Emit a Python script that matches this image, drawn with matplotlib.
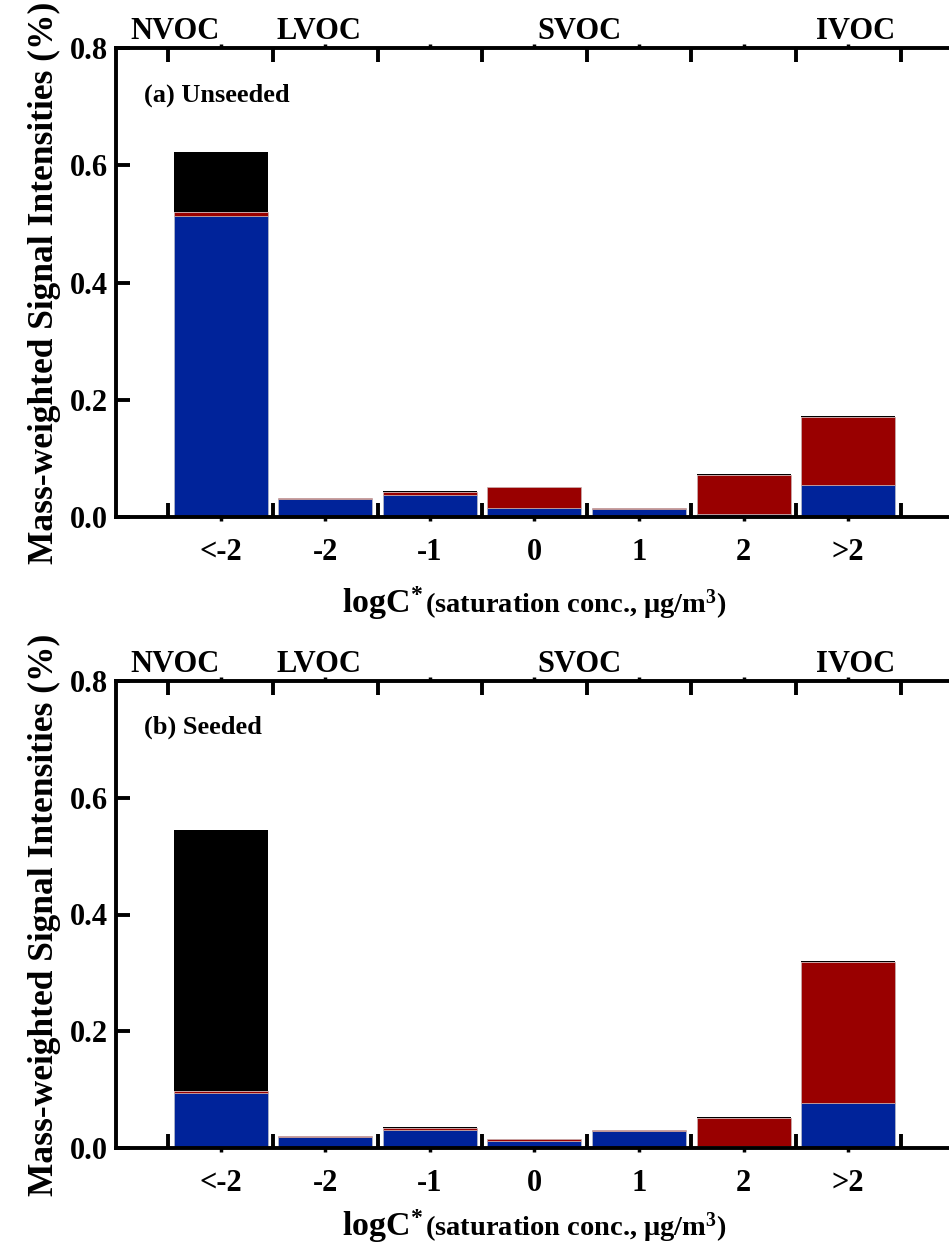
import numpy as np
import matplotlib
matplotlib.use("Agg")
import matplotlib.pyplot as plt
from matplotlib.transforms import blended_transform_factory, IdentityTransform

plt.rcParams['font.family'] = ['Liberation Serif', 'DejaVu Serif']
plt.rcParams['font.weight'] = 'bold'
plt.rcParams['axes.labelweight'] = 'bold'
plt.rcParams['mathtext.fontset'] = 'custom'
plt.rcParams['mathtext.rm'] = 'Liberation Serif:bold'
plt.rcParams['mathtext.it'] = 'Liberation Serif:bold'
plt.rcParams['mathtext.bf'] = 'Liberation Serif:bold'
plt.rcParams['mathtext.default'] = 'rm'

# volatility bins (log10 C*)
bins = ['<-2', '-2', '-1', '0', '1', '2', '>2']

# (a) unseeded: stacked contributions, bottom to top
unseeded_blue = [0.513, 0.031, 0.037, 0.016, 0.013, 0.005, 0.054]
unseeded_red = [0.007, 0.001, 0.006, 0.035, 0.002, 0.067, 0.116]
unseeded_black = [0.102, 0.0, 0.001, 0.001, 0.0, 0.001, 0.002]

# (b) seeded
seeded_blue = [0.095, 0.018, 0.030, 0.0115, 0.029, 0.003, 0.077]
seeded_red = [0.002, 0.002, 0.005, 0.0035, 0.002, 0.049, 0.241]
seeded_black = [0.448, 0.0, 0.001, 0.0, 0.0, 0.001, 0.002]

# class names along the top and their positions on the bin axis
classes = ['NVOC', 'LVOC', 'SVOC', 'IVOC']
class_pos = [-0.44, 0.94, 3.43, 6.07]

BLUE = '#00239a'
RED = '#990000'

fig = plt.figure(figsize=(9.49, 12.45), dpi=100)
W, H = 949, 1245
left = 116 / W
width = 8 * 104.6 / W
ax_a = fig.add_axes([left, 1 - 517 / H, width, (517 - 48) / H])
ax_b = fig.add_axes([left, 1 - 1148 / H, width, (1148 - 681) / H])


def draw_panel(ax, blue, red, black, tag, title_drop):
    x = np.arange(len(bins))
    blue = np.array(blue)
    red = np.array(red)
    black = np.array(black)
    ax.bar(x, blue, width=0.9, color=BLUE, edgecolor='#b8bcc8', linewidth=0.5)
    ax.bar(x, red, width=0.9, bottom=blue, color=RED, edgecolor='#c8b0b0', linewidth=0.5)
    ax.bar(x, black, width=0.9, bottom=blue + red, color='black', linewidth=0)

    ax.set_xlim(-1, 7)
    ax.set_ylim(0, 0.8)

    # spines
    for side in ['left', 'top', 'bottom']:
        ax.spines[side].set_linewidth(2.8)
    ax.spines['right'].set_visible(False)

    # ticks
    ax.set_yticks([0.0, 0.2, 0.4, 0.6, 0.8])
    ax.set_yticklabels(['0.0', '0.2', '0.4', '0.6', '0.8'])
    ax.set_xticks(x)
    ax.set_xticklabels(bins)
    ax.set_xticks(np.arange(-0.5, 7.0, 1.0), minor=True)
    ax.tick_params(axis='y', direction='in', length=10, width=2.8,
                   labelsize=22, pad=6, right=False)
    ax.tick_params(axis='x', which='major', direction='out', length=3,
                   width=2.5, labelsize=22, pad=12, top=True)
    ax.tick_params(axis='x', which='minor', direction='in', length=10,
                   width=2.8, top=True)

    ax.set_ylabel('Mass-weighted Signal Intensities (%)', fontsize=25.5,
                  labelpad=6)

    # class labels above the top axis
    tr = blended_transform_factory(ax.transData, ax.transAxes)
    for name, pos in zip(classes, class_pos):
        ax.text(pos, 1.02, name, transform=tr, ha='center', va='baseline',
                fontsize=22)

    ax.text(-0.73, 0.72, tag, ha='left', va='center', fontsize=19)

    # axis title: "logC*" followed by smaller unit text, centred under the bars
    cx, cy = ax.transData.transform((3.0, 0.0))
    base = cy - title_drop
    t1 = ax.text(0, base, 'logC$^{*}$', transform=IdentityTransform(),
                 ha='left', va='baseline', fontsize=24.5)
    t2 = ax.text(0, base, '(saturation conc., \u03bcg/m$^{3}$)',
                 transform=IdentityTransform(), ha='left', va='baseline',
                 fontsize=20.5)
    fig.canvas.draw()
    w1 = t1.get_window_extent().width
    w2 = t2.get_window_extent().width
    x0 = cx - (w1 + w2 + 2) / 2
    t1.set_position((x0, base))
    t2.set_position((x0 + w1 + 2, base))


draw_panel(ax_a, unseeded_blue, unseeded_red, unseeded_black, '(a) Unseeded', 96)
draw_panel(ax_b, seeded_blue, seeded_red, seeded_black, '(b) Seeded', 88)

fig.savefig('out.png', dpi=100)
